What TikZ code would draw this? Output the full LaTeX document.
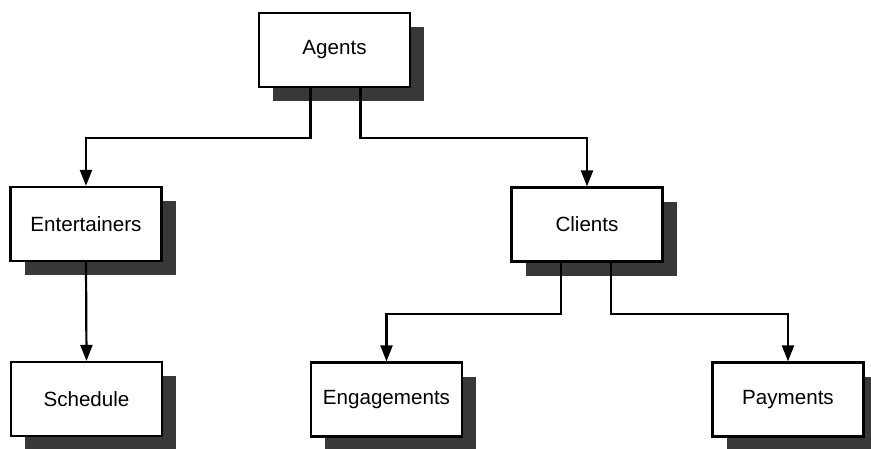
\documentclass[tikz,border=0pt]{standalone}
\usepackage{fontspec}
\setmainfont{Liberation Sans}
\usetikzlibrary{shadows,arrows.meta,calc}
\begin{document}
\begin{tikzpicture}[x=1pt,y=-1pt,
  entity/.style={draw=black, line width=2.2pt, fill=white,
    minimum width=151pt, minimum height=74pt, inner sep=0pt,
    font=\fontsize{20.6}{24}\selectfont,
    drop shadow={shadow xshift=14pt, shadow yshift=-14pt, fill=black!78, opacity=1}},
  link/.style={line width=2.2pt, -{Triangle[length=16pt,width=12pt]}}]
\useasboundingbox (0,0) rectangle (871,448);
% entities
\node[entity] (agents)  at (334.5,50)  {Agents};
\node[entity] (ent)     at (86,224)    {Entertainers};
\node[entity] (clients) at (587,224.5) {Clients};
\node[entity] (sched)   at (86.5,399)  {Schedule};
\node[entity] (engage)  at (386.5,399.5) {Engagements};
\node[entity] (pay)     at (788,399.5) {Payments};
% relationships
\draw[link] ($(agents.south)+(-24,0)$) -- ++(0,50) -| (ent.north);
\draw[link] ($(agents.south)+(26,0)$) -- ++(0,50) -| (clients.north);
\draw[link] (ent.south) -- (sched.north);
\draw[link] ($(clients.south)+(-26,0)$) -- ++(0,51) -| (engage.north);
\draw[link] ($(clients.south)+(24,0)$) -- ++(0,51) -| (pay.north);
\end{tikzpicture}
\end{document}
